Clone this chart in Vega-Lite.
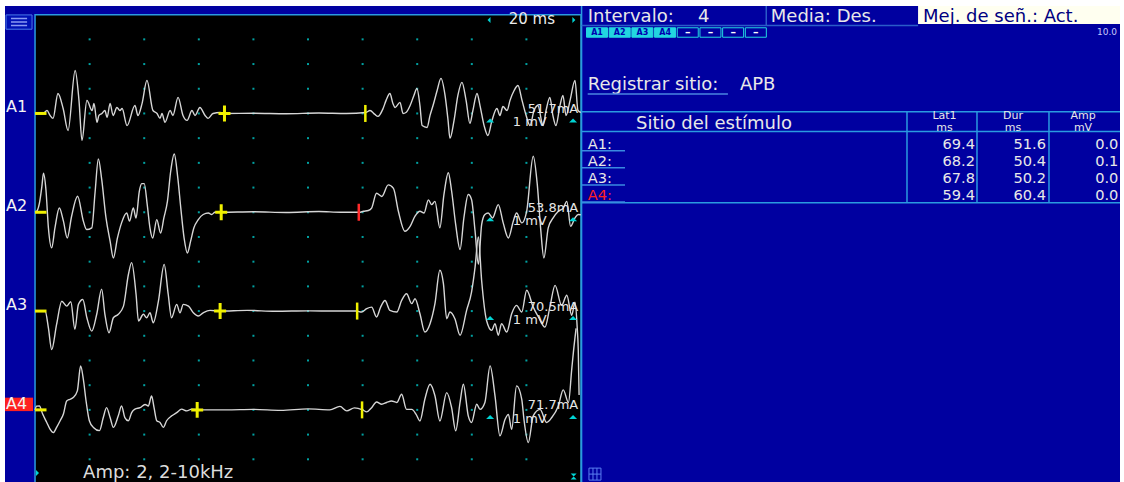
{
  "$schema": "https://vega.github.io/schema/vega-lite/v6.json",
  "background": "#ffffff",
  "padding": {"left": 5, "top": 5, "right": 4, "bottom": 0},
  "bounds": "flush",
  "spacing": 0,
  "config": {
    "view": {"stroke": null, "fill": "#0000a0"},
    "text": {"font": "DejaVu Sans"},
    "concat": {"spacing": 0}
  },
  "datasets": {
    "sitios": [
      {"ch": "A1", "row": 1, "base": 4, "lat": 69.4, "dur": 51.6, "end": 121.0, "amp": 0.0, "mA": "51.7mA"},
      {"ch": "A2", "row": 2, "base": 8, "lat": 68.2, "dur": 50.4, "end": 118.6, "amp": 0.1, "mA": "53.8mA"},
      {"ch": "A3", "row": 3, "base": 12, "lat": 67.8, "dur": 50.2, "end": 118.0, "amp": 0.0, "mA": "70.5mA"},
      {"ch": "A4", "row": 4, "base": 16, "lat": 59.4, "dur": 60.4, "end": 119.8, "amp": 0.0, "mA": "71.7mA"}
    ],
    "rejilla": [
      {"t": 20, "y": [1,2,3,4,5,6,7,8,9,10,11,12,13,14,15,16,17,18]},
      {"t": 40, "y": [1,2,3,4,5,6,7,8,9,10,11,12,13,14,15,16,17,18]},
      {"t": 60, "y": [1,2,3,4,5,6,7,8,9,10,11,12,13,14,15,16,17,18]},
      {"t": 80, "y": [1,2,3,4,5,6,7,8,9,10,11,12,13,14,15,16,17,18]},
      {"t": 100, "y": [1,2,3,4,5,6,7,8,9,10,11,12,13,14,15,16,17,18]},
      {"t": 120, "y": [1,2,3,4,5,6,7,8,9,10,11,12,13,14,15,16,17,18]},
      {"t": 140, "y": [1,2,3,4,5,6,7,8,9,10,11,12,13,14,15,16,17,18]},
      {"t": 160, "y": [1,2,3,4,5,6,7,8,9,10,11,12,13,14,15,16,17,18]},
      {"t": 180, "y": [1,2,3,4,5,6,7,8,9,10,11,12,13,14,15,16,17,18]}
    ],
    "botones": [
      {"slot": 1, "label": "A1", "on": true},
      {"slot": 2, "label": "A2", "on": true},
      {"slot": 3, "label": "A3", "on": true},
      {"slot": 4, "label": "A4", "on": true},
      {"slot": 5, "label": "–", "on": false},
      {"slot": 6, "label": "–", "on": false},
      {"slot": 7, "label": "–", "on": false},
      {"slot": 8, "label": "–", "on": false}
    ],
    "trazos": [
      {"ch":"A1","t":0,"y":4.0},{"ch":"A1","t":2.9,"y":4.0},{"ch":"A1","t":4.4,"y":3.88},{"ch":"A1","t":5.5,"y":4.08},{"ch":"A1","t":6.6,"y":4.2},{"ch":"A1","t":8.4,"y":3.19},{"ch":"A1","t":10.3,"y":3.8},{"ch":"A1","t":12.1,"y":4.69},{"ch":"A1","t":14.7,"y":2.26},{"ch":"A1","t":16.1,"y":3.47},{"ch":"A1","t":17.2,"y":5.09},{"ch":"A1","t":19.0,"y":3.47},{"ch":"A1","t":20.9,"y":3.88},{"ch":"A1","t":21.6,"y":3.6},{"ch":"A1","t":22.7,"y":4.36},{"ch":"A1","t":23.4,"y":4.08},{"ch":"A1","t":24.5,"y":4.0},{"ch":"A1","t":25.6,"y":3.88},{"ch":"A1","t":26.4,"y":4.16},{"ch":"A1","t":27.5,"y":3.6},{"ch":"A1","t":28.6,"y":4.08},{"ch":"A1","t":30.0,"y":3.76},{"ch":"A1","t":31.1,"y":3.88},{"ch":"A1","t":31.9,"y":3.8},{"ch":"A1","t":33.7,"y":4.49},{"ch":"A1","t":36.6,"y":3.68},{"ch":"A1","t":37.7,"y":4.08},{"ch":"A1","t":39.2,"y":3.6},{"ch":"A1","t":41.0,"y":2.66},{"ch":"A1","t":43.2,"y":3.88},{"ch":"A1","t":44.7,"y":4.0},{"ch":"A1","t":45.8,"y":4.2},{"ch":"A1","t":46.5,"y":4.0},{"ch":"A1","t":47.6,"y":4.36},{"ch":"A1","t":49.5,"y":3.88},{"ch":"A1","t":50.5,"y":4.08},{"ch":"A1","t":52.4,"y":3.35},{"ch":"A1","t":54.2,"y":4.08},{"ch":"A1","t":55.7,"y":4.28},{"ch":"A1","t":57.5,"y":3.88},{"ch":"A1","t":58.6,"y":4.08},{"ch":"A1","t":60.4,"y":3.76},{"ch":"A1","t":62.3,"y":4.08},{"ch":"A1","t":63.4,"y":4.2},{"ch":"A1","t":65.2,"y":4.0},{"ch":"A1","t":67.8,"y":3.96},{"ch":"A1","t":69.6,"y":4.0},{"ch":"A1","t":80,"y":3.99},{"ch":"A1","t":92,"y":4.01},{"ch":"A1","t":104,"y":3.98},{"ch":"A1","t":114,"y":4.0},
      {"ch":"A1","t":121.2,"y":3.96},{"ch":"A1","t":122.7,"y":3.88},{"ch":"A1","t":124.5,"y":4.04},{"ch":"A1","t":125.6,"y":4.12},{"ch":"A1","t":127.5,"y":3.8},{"ch":"A1","t":128.6,"y":3.47},{"ch":"A1","t":130.0,"y":3.19},{"ch":"A1","t":131.1,"y":3.6},{"ch":"A1","t":131.9,"y":3.76},{"ch":"A1","t":133.7,"y":3.55},{"ch":"A1","t":134.8,"y":4.0},{"ch":"A1","t":135.9,"y":3.96},{"ch":"A1","t":137.4,"y":3.68},{"ch":"A1","t":138.8,"y":3.27},{"ch":"A1","t":139.9,"y":2.99},{"ch":"A1","t":141.0,"y":3.68},{"ch":"A1","t":141.8,"y":4.49},{"ch":"A1","t":143.6,"y":4.57},{"ch":"A1","t":144.7,"y":4.08},{"ch":"A1","t":145.8,"y":3.68},{"ch":"A1","t":147.3,"y":3.07},{"ch":"A1","t":148.7,"y":2.58},{"ch":"A1","t":150.2,"y":3.27},{"ch":"A1","t":151.3,"y":4.28},{"ch":"A1","t":152.0,"y":5.01},{"ch":"A1","t":153.5,"y":4.28},{"ch":"A1","t":154.9,"y":3.27},{"ch":"A1","t":156.4,"y":2.74},{"ch":"A1","t":157.9,"y":3.47},{"ch":"A1","t":159.3,"y":4.4},{"ch":"A1","t":160.4,"y":3.88},{"ch":"A1","t":161.9,"y":3.19},{"ch":"A1","t":163.0,"y":3.68},{"ch":"A1","t":164.5,"y":4.49},{"ch":"A1","t":165.9,"y":4.89},{"ch":"A1","t":167.4,"y":4.28},{"ch":"A1","t":169.2,"y":3.8},{"ch":"A1","t":170.3,"y":4.08},{"ch":"A1","t":171.4,"y":3.72},{"ch":"A1","t":172.9,"y":3.88},{"ch":"A1","t":174.0,"y":3.47},{"ch":"A1","t":175.5,"y":3.07},{"ch":"A1","t":176.9,"y":2.87},{"ch":"A1","t":178.4,"y":3.47},{"ch":"A1","t":179.9,"y":4.08},{"ch":"A1","t":181.3,"y":4.49},{"ch":"A1","t":182.8,"y":3.88},{"ch":"A1","t":184.2,"y":3.68},{"ch":"A1","t":186.1,"y":4.49},{"ch":"A1","t":187.2,"y":3.88},{"ch":"A1","t":188.6,"y":3.35},{"ch":"A1","t":189.7,"y":4.08},{"ch":"A1","t":190.8,"y":4.49},{"ch":"A1","t":192.3,"y":3.68},{"ch":"A1","t":193.4,"y":3.27},{"ch":"A1","t":194.5,"y":4.08},{"ch":"A1","t":196.0,"y":3.47},{"ch":"A1","t":197.8,"y":2.66},{"ch":"A1","t":198.9,"y":3.88},{"ch":"A1","t":200,"y":3.96},
      {"ch":"A2","t":0,"y":8.0},{"ch":"A2","t":0.8,"y":7.93},{"ch":"A2","t":1.6,"y":7.64},{"ch":"A2","t":2.5,"y":6.96},{"ch":"A2","t":3.1,"y":6.42},{"ch":"A2","t":4.0,"y":7.09},{"ch":"A2","t":4.9,"y":8.63},{"ch":"A2","t":6.1,"y":9.44},{"ch":"A2","t":7.3,"y":8.63},{"ch":"A2","t":8.9,"y":7.83},{"ch":"A2","t":10.4,"y":8.36},{"ch":"A2","t":11.8,"y":9.04},{"ch":"A2","t":13.4,"y":8.16},{"ch":"A2","t":15.6,"y":7.35},{"ch":"A2","t":17.7,"y":8.36},{"ch":"A2","t":18.9,"y":8.7},{"ch":"A2","t":20.8,"y":8.63},{"ch":"A2","t":22.0,"y":7.19},{"ch":"A2","t":23.2,"y":5.84},{"ch":"A2","t":24.4,"y":6.65},{"ch":"A2","t":26.0,"y":8.23},{"ch":"A2","t":27.5,"y":9.17},{"ch":"A2","t":28.7,"y":9.85},{"ch":"A2","t":30.2,"y":9.04},{"ch":"A2","t":31.7,"y":8.43},{"ch":"A2","t":33.6,"y":8.03},{"ch":"A2","t":34.6,"y":8.36},{"ch":"A2","t":36.0,"y":7.83},{"ch":"A2","t":37.0,"y":8.23},{"ch":"A2","t":38.2,"y":7.15},{"ch":"A2","t":39.1,"y":6.84},{"ch":"A2","t":40.0,"y":6.84},{"ch":"A2","t":41.1,"y":7.69},{"ch":"A2","t":42.1,"y":8.63},{"ch":"A2","t":43.1,"y":9.04},{"ch":"A2","t":44.6,"y":8.3},{"ch":"A2","t":46.0,"y":8.84},{"ch":"A2","t":47.2,"y":8.23},{"ch":"A2","t":48.5,"y":7.56},{"ch":"A2","t":49.7,"y":6.34},{"ch":"A2","t":51.0,"y":5.64},{"ch":"A2","t":52.3,"y":6.61},{"ch":"A2","t":53.4,"y":7.83},{"ch":"A2","t":54.6,"y":9.04},{"ch":"A2","t":55.8,"y":9.65},{"ch":"A2","t":57.0,"y":9.17},{"ch":"A2","t":58.2,"y":8.63},{"ch":"A2","t":59.8,"y":8.3},{"ch":"A2","t":61.6,"y":8.09},{"ch":"A2","t":63.5,"y":8.03},{"ch":"A2","t":64.7,"y":8.09},{"ch":"A2","t":65.9,"y":8.0},{"ch":"A2","t":68.4,"y":8.0},{"ch":"A2","t":80,"y":7.98},{"ch":"A2","t":92,"y":8.01},{"ch":"A2","t":104,"y":7.97},{"ch":"A2","t":112,"y":8.0},
      {"ch":"A2","t":118.8,"y":8.0},{"ch":"A2","t":120.3,"y":7.96},{"ch":"A2","t":122.1,"y":7.93},{"ch":"A2","t":123.3,"y":7.83},{"ch":"A2","t":125.1,"y":7.23},{"ch":"A2","t":127.0,"y":7.36},{"ch":"A2","t":129.4,"y":6.89},{"ch":"A2","t":131.3,"y":7.03},{"ch":"A2","t":133.1,"y":7.96},{"ch":"A2","t":135.5,"y":8.77},{"ch":"A2","t":137.4,"y":8.57},{"ch":"A2","t":139.2,"y":8.16},{"ch":"A2","t":141.0,"y":7.96},{"ch":"A2","t":142.5,"y":8.03},{"ch":"A2","t":144.1,"y":7.5},{"ch":"A2","t":145.3,"y":7.69},{"ch":"A2","t":146.5,"y":7.56},{"ch":"A2","t":148.3,"y":8.63},{"ch":"A2","t":149.8,"y":7.28},{"ch":"A2","t":151.4,"y":6.4},{"ch":"A2","t":152.6,"y":7.14},{"ch":"A2","t":154.1,"y":8.5},{"ch":"A2","t":155.7,"y":9.51},{"ch":"A2","t":157.1,"y":8.23},{"ch":"A2","t":158.7,"y":7.28},{"ch":"A2","t":159.9,"y":7.48},{"ch":"A2","t":161.2,"y":8.77},{"ch":"A2","t":162.4,"y":10.11},{"ch":"A2","t":163.6,"y":8.5},{"ch":"A2","t":164.8,"y":8.09},{"ch":"A2","t":166.0,"y":8.03},{"ch":"A2","t":167.6,"y":8.23},{"ch":"A2","t":169.7,"y":7.69},{"ch":"A2","t":171.5,"y":8.43},{"ch":"A2","t":173.4,"y":9.04},{"ch":"A2","t":175.2,"y":8.36},{"ch":"A2","t":176.4,"y":8.03},{"ch":"A2","t":178.3,"y":8.43},{"ch":"A2","t":180.1,"y":7.96},{"ch":"A2","t":182.5,"y":5.73},{"ch":"A2","t":184.0,"y":6.89},{"ch":"A2","t":185.2,"y":8.63},{"ch":"A2","t":186.4,"y":9.85},{"ch":"A2","t":188.0,"y":8.63},{"ch":"A2","t":189.8,"y":8.23},{"ch":"A2","t":191.7,"y":7.96},{"ch":"A2","t":193.5,"y":7.83},{"ch":"A2","t":194.8,"y":7.56},{"ch":"A2","t":196.2,"y":8.57},{"ch":"A2","t":197.8,"y":8.23},{"ch":"A2","t":199.0,"y":8.09},{"ch":"A2","t":200,"y":8.1},
      {"ch":"A3","t":0,"y":12.0},{"ch":"A3","t":3.7,"y":12.0},{"ch":"A3","t":4.9,"y":12.68},{"ch":"A3","t":6.1,"y":13.56},{"ch":"A3","t":7.9,"y":12.54},{"ch":"A3","t":9.8,"y":11.6},{"ch":"A3","t":11.6,"y":11.8},{"ch":"A3","t":13.1,"y":11.62},{"ch":"A3","t":14.6,"y":12.74},{"ch":"A3","t":15.9,"y":11.73},{"ch":"A3","t":17.5,"y":11.53},{"ch":"A3","t":19.0,"y":12.27},{"ch":"A3","t":20.8,"y":12.81},{"ch":"A3","t":22.6,"y":12.13},{"ch":"A3","t":24.4,"y":11.11},{"ch":"A3","t":25.6,"y":12.13},{"ch":"A3","t":27.1,"y":12.88},{"ch":"A3","t":28.7,"y":12.27},{"ch":"A3","t":30.5,"y":12.13},{"ch":"A3","t":32.4,"y":11.8},{"ch":"A3","t":34.2,"y":10.52},{"ch":"A3","t":35.4,"y":10.04},{"ch":"A3","t":37.0,"y":11.31},{"ch":"A3","t":37.9,"y":12.4},{"ch":"A3","t":39.7,"y":12.13},{"ch":"A3","t":40.9,"y":12.27},{"ch":"A3","t":42.1,"y":12.07},{"ch":"A3","t":43.3,"y":12.47},{"ch":"A3","t":45.2,"y":11.6},{"ch":"A3","t":47.3,"y":10.11},{"ch":"A3","t":48.8,"y":11.33},{"ch":"A3","t":50.0,"y":12.27},{"ch":"A3","t":51.9,"y":11.73},{"ch":"A3","t":53.1,"y":12.07},{"ch":"A3","t":54.3,"y":11.73},{"ch":"A3","t":56.2,"y":11.8},{"ch":"A3","t":58.0,"y":12.07},{"ch":"A3","t":59.8,"y":12.2},{"ch":"A3","t":61.6,"y":12.07},{"ch":"A3","t":64.1,"y":11.97},{"ch":"A3","t":67.8,"y":12.0},{"ch":"A3","t":77.7,"y":11.97},{"ch":"A3","t":88,"y":12.01},{"ch":"A3","t":100,"y":11.99},{"ch":"A3","t":110,"y":12.0},
      {"ch":"A3","t":117.8,"y":12.0},{"ch":"A3","t":119.6,"y":12.04},{"ch":"A3","t":121.5,"y":11.9},{"ch":"A3","t":123.3,"y":11.84},{"ch":"A3","t":125.1,"y":12.24},{"ch":"A3","t":126.6,"y":11.84},{"ch":"A3","t":128.2,"y":11.57},{"ch":"A3","t":130.0,"y":11.97},{"ch":"A3","t":132.5,"y":12.04},{"ch":"A3","t":134.3,"y":11.57},{"ch":"A3","t":136.1,"y":11.3},{"ch":"A3","t":138.0,"y":11.7},{"ch":"A3","t":139.2,"y":11.5},{"ch":"A3","t":141.0,"y":12.11},{"ch":"A3","t":142.8,"y":12.85},{"ch":"A3","t":144.7,"y":12.51},{"ch":"A3","t":146.5,"y":11.7},{"ch":"A3","t":148.3,"y":10.35},{"ch":"A3","t":149.6,"y":10.89},{"ch":"A3","t":150.8,"y":12.31},{"ch":"A3","t":152.0,"y":12.04},{"ch":"A3","t":153.8,"y":12.31},{"ch":"A3","t":155.7,"y":12.98},{"ch":"A3","t":158.1,"y":11.97},{"ch":"A3","t":159.9,"y":11.23},{"ch":"A3","t":161.2,"y":10.22},{"ch":"A3","t":162.4,"y":9.0},{"ch":"A3","t":163.6,"y":10.76},{"ch":"A3","t":165.4,"y":12.38},{"ch":"A3","t":167.3,"y":12.78},{"ch":"A3","t":168.5,"y":12.51},{"ch":"A3","t":169.7,"y":12.98},{"ch":"A3","t":170.9,"y":12.51},{"ch":"A3","t":172.8,"y":12.85},{"ch":"A3","t":174.6,"y":12.11},{"ch":"A3","t":176.4,"y":11.77},{"ch":"A3","t":178.3,"y":12.04},{"ch":"A3","t":180.1,"y":11.16},{"ch":"A3","t":182.5,"y":11.84},{"ch":"A3","t":184.4,"y":12.24},{"ch":"A3","t":186.8,"y":12.65},{"ch":"A3","t":188.6,"y":11.84},{"ch":"A3","t":190.5,"y":10.96},{"ch":"A3","t":192.9,"y":11.77},{"ch":"A3","t":194.8,"y":11.36},{"ch":"A3","t":196.6,"y":12.17},{"ch":"A3","t":197.8,"y":11.64},{"ch":"A3","t":198.6,"y":12.65},{"ch":"A3","t":199.0,"y":13.6},{"ch":"A3","t":199.3,"y":15.4},
      {"ch":"A4","t":0,"y":16.0},{"ch":"A4","t":0.6,"y":15.85},{"ch":"A4","t":1.6,"y":15.84},{"ch":"A4","t":2.8,"y":16.17},{"ch":"A4","t":4.3,"y":16.51},{"ch":"A4","t":5.5,"y":16.78},{"ch":"A4","t":6.7,"y":16.92},{"ch":"A4","t":7.9,"y":16.71},{"ch":"A4","t":9.2,"y":16.44},{"ch":"A4","t":10.4,"y":16.17},{"ch":"A4","t":11.6,"y":15.64},{"ch":"A4","t":12.8,"y":15.57},{"ch":"A4","t":14.0,"y":15.5},{"ch":"A4","t":15.5,"y":15.23},{"ch":"A4","t":16.7,"y":14.22},{"ch":"A4","t":17.7,"y":14.76},{"ch":"A4","t":18.7,"y":15.64},{"ch":"A4","t":19.9,"y":16.44},{"ch":"A4","t":21.4,"y":16.71},{"ch":"A4","t":23.6,"y":16.84},{"ch":"A4","t":25.0,"y":16.31},{"ch":"A4","t":26.2,"y":15.91},{"ch":"A4","t":27.5,"y":16.31},{"ch":"A4","t":28.7,"y":16.71},{"ch":"A4","t":30.5,"y":16.24},{"ch":"A4","t":31.7,"y":15.84},{"ch":"A4","t":32.9,"y":16.31},{"ch":"A4","t":34.2,"y":16.44},{"ch":"A4","t":35.4,"y":16.11},{"ch":"A4","t":36.6,"y":15.97},{"ch":"A4","t":38.5,"y":15.91},{"ch":"A4","t":40.3,"y":15.78},{"ch":"A4","t":41.5,"y":15.84},{"ch":"A4","t":42.7,"y":15.44},{"ch":"A4","t":43.6,"y":15.91},{"ch":"A4","t":44.6,"y":16.44},{"ch":"A4","t":45.8,"y":16.51},{"ch":"A4","t":47.0,"y":16.71},{"ch":"A4","t":48.2,"y":16.44},{"ch":"A4","t":50.1,"y":16.24},{"ch":"A4","t":51.9,"y":16.11},{"ch":"A4","t":53.7,"y":15.97},{"ch":"A4","t":55.6,"y":16.04},{"ch":"A4","t":57.4,"y":15.97},{"ch":"A4","t":59.8,"y":16.0},{"ch":"A4","t":70,"y":16.0},{"ch":"A4","t":80,"y":15.98},{"ch":"A4","t":90,"y":16.02},{"ch":"A4","t":100,"y":15.96},{"ch":"A4","t":108,"y":16.0},{"ch":"A4","t":111.7,"y":15.86},{"ch":"A4","t":114.2,"y":16.04},{"ch":"A4","t":117,"y":15.92},
      {"ch":"A4","t":120.0,"y":16.0},{"ch":"A4","t":121.5,"y":16.08},{"ch":"A4","t":123.3,"y":15.91},{"ch":"A4","t":125.1,"y":15.68},{"ch":"A4","t":127.0,"y":15.77},{"ch":"A4","t":128.8,"y":15.7},{"ch":"A4","t":130.6,"y":15.64},{"ch":"A4","t":132.5,"y":15.7},{"ch":"A4","t":134.3,"y":15.37},{"ch":"A4","t":136.1,"y":15.98},{"ch":"A4","t":138.0,"y":15.98},{"ch":"A4","t":139.6,"y":16.18},{"ch":"A4","t":141.0,"y":16.45},{"ch":"A4","t":142.8,"y":15.57},{"ch":"A4","t":144.7,"y":14.96},{"ch":"A4","t":146.5,"y":15.43},{"ch":"A4","t":148.3,"y":16.45},{"ch":"A4","t":150.8,"y":15.3},{"ch":"A4","t":152.6,"y":15.91},{"ch":"A4","t":154.1,"y":16.85},{"ch":"A4","t":155.7,"y":15.7},{"ch":"A4","t":156.9,"y":14.96},{"ch":"A4","t":158.7,"y":16.24},{"ch":"A4","t":159.9,"y":16.51},{"ch":"A4","t":161.8,"y":15.77},{"ch":"A4","t":163.0,"y":15.98},{"ch":"A4","t":164.8,"y":15.7},{"ch":"A4","t":166.7,"y":14.22},{"ch":"A4","t":168.5,"y":15.43},{"ch":"A4","t":170.3,"y":17.05},{"ch":"A4","t":172.2,"y":16.38},{"ch":"A4","t":173.4,"y":16.18},{"ch":"A4","t":174.6,"y":16.79},{"ch":"A4","t":176.4,"y":15.03},{"ch":"A4","t":178.3,"y":15.57},{"ch":"A4","t":179.1,"y":16.38},{"ch":"A4","t":180.7,"y":17.32},{"ch":"A4","t":182.5,"y":16.24},{"ch":"A4","t":185.0,"y":15.98},{"ch":"A4","t":187.4,"y":16.51},{"ch":"A4","t":189.3,"y":16.31},{"ch":"A4","t":191.7,"y":15.84},{"ch":"A4","t":193.5,"y":15.19},{"ch":"A4","t":195.4,"y":15.7},{"ch":"A4","t":196.6,"y":14.36},{"ch":"A4","t":197.2,"y":13.68},{"ch":"A4","t":198.2,"y":12.7}
    ]
  },
  "hconcat": [
    {
      "width": 576,
      "height": 477,
      "layer": [
        {
          "data": {"values": [{}]},
          "mark": {"type": "rect", "fill": "#000000", "stroke": "#2a9ae0", "strokeWidth": 1.5},
          "encoding": {
            "x": {"datum": 0, "type": "quantitative", "scale": {"domain": [-11, 200], "nice": false, "zero": false}, "axis": null},
            "x2": {"datum": 200},
            "y": {"datum": 0, "type": "quantitative", "scale": {"domain": [-0.35, 18.96], "nice": false, "zero": false, "reverse": true}, "axis": null},
            "y2": {"datum": 18.96}
          }
        },
        {
          "data": {"name": "rejilla"},
          "transform": [{"flatten": ["y"]}],
          "mark": {"type": "square", "size": 4, "color": "#00a0a0", "opacity": 1},
          "encoding": {
            "x": {"field": "t", "type": "quantitative", "scale": {"domain": [-11, 200], "nice": false, "zero": false}, "axis": null},
            "y": {"field": "y", "type": "quantitative", "scale": {"domain": [-0.35, 18.96], "nice": false, "zero": false, "reverse": true}, "axis": null}
          }
        },
        {
          "data": {"name": "trazos"},
          "mark": {"type": "line", "color": "#d6d6d6", "strokeWidth": 1.4, "interpolate": "monotone"},
          "encoding": {
            "x": {"field": "t", "type": "quantitative", "scale": {"domain": [-11, 200], "nice": false, "zero": false}, "axis": null},
            "y": {"field": "y", "type": "quantitative", "scale": {"domain": [-0.35, 18.96], "nice": false, "zero": false, "reverse": true}, "axis": null},
            "detail": {"field": "ch"}
          }
        },
        {
          "data": {"name": "sitios"},
          "mark": {"type": "rule", "color": "#f0f000", "strokeWidth": 3},
          "encoding": {
            "x": {"datum": 0, "type": "quantitative", "scale": {"domain": [-11, 200], "nice": false, "zero": false}, "axis": null},
            "x2": {"datum": 4.2},
            "y": {"field": "base", "type": "quantitative", "scale": {"domain": [-0.35, 18.96], "nice": false, "zero": false, "reverse": true}, "axis": null}
          }
        },
        {
          "data": {"name": "sitios"},
          "mark": {"type": "point", "shape": "M-1,0H1M0,-1.33V1.33", "size": 144, "filled": false, "strokeWidth": 3, "color": "#f0f000", "opacity": 1},
          "encoding": {
            "x": {"field": "lat", "type": "quantitative", "scale": {"domain": [-11, 200], "nice": false, "zero": false}, "axis": null},
            "y": {"field": "base", "type": "quantitative", "scale": {"domain": [-0.35, 18.96], "nice": false, "zero": false, "reverse": true}, "axis": null}
          }
        },
        {
          "data": {"name": "sitios"},
          "mark": {"type": "point", "shape": "M0,-1V1", "size": 289, "filled": false, "strokeWidth": 2.5, "opacity": 1},
          "encoding": {
            "x": {"field": "end", "type": "quantitative", "scale": {"domain": [-11, 200], "nice": false, "zero": false}, "axis": null},
            "y": {"field": "base", "type": "quantitative", "scale": {"domain": [-0.35, 18.96], "nice": false, "zero": false, "reverse": true}, "axis": null},
            "color": {"condition": {"test": "datum.ch === 'A2'", "value": "#ff2a2a"}, "value": "#f0f000"}
          }
        },
        {
          "data": {"name": "sitios"},
          "mark": {"type": "point", "shape": "M-1,0.5L0,-0.5L1,0.5Z", "size": 64, "filled": true, "color": "#00d4d4", "opacity": 1, "yOffset": 7},
          "encoding": {
            "x": {"datum": 166.7, "type": "quantitative", "scale": {"domain": [-11, 200], "nice": false, "zero": false}, "axis": null},
            "y": {"field": "base", "type": "quantitative", "scale": {"domain": [-0.35, 18.96], "nice": false, "zero": false, "reverse": true}, "axis": null}
          }
        },
        {
          "data": {"name": "sitios"},
          "mark": {"type": "point", "shape": "M-1,0.5L0,-0.5L1,0.5Z", "size": 64, "filled": true, "color": "#00d4d4", "opacity": 1, "yOffset": 7},
          "encoding": {
            "x": {"datum": 197.1, "type": "quantitative", "scale": {"domain": [-11, 200], "nice": false, "zero": false}, "axis": null},
            "y": {"field": "base", "type": "quantitative", "scale": {"domain": [-0.35, 18.96], "nice": false, "zero": false, "reverse": true}, "axis": null}
          }
        },
        {
          "data": {"name": "sitios"},
          "mark": {"type": "text", "align": "right", "baseline": "alphabetic", "fontSize": 13, "color": "#e6e6e6", "dy": -0.5},
          "encoding": {
            "x": {"datum": 199, "type": "quantitative", "scale": {"domain": [-11, 200], "nice": false, "zero": false}, "axis": null},
            "y": {"field": "base", "type": "quantitative", "scale": {"domain": [-0.35, 18.96], "nice": false, "zero": false, "reverse": true}, "axis": null},
            "text": {"field": "mA"}
          }
        },
        {
          "data": {"name": "sitios"},
          "mark": {"type": "text", "align": "left", "baseline": "alphabetic", "fontSize": 13, "color": "#e6e6e6", "dy": 13, "text": "1 mV"},
          "encoding": {
            "x": {"datum": 175, "type": "quantitative", "scale": {"domain": [-11, 200], "nice": false, "zero": false}, "axis": null},
            "y": {"field": "base", "type": "quantitative", "scale": {"domain": [-0.35, 18.96], "nice": false, "zero": false, "reverse": true}, "axis": null}
          }
        },
        {
          "data": {"name": "sitios"},
          "transform": [{"filter": "datum.ch === 'A4'"}],
          "mark": {"type": "point", "shape": "M-1,-0.48H1V0.48H-1Z", "size": 784, "filled": true, "color": "#ff2020", "opacity": 1, "yOffset": -5.5},
          "encoding": {
            "x": {"datum": -5.86, "type": "quantitative", "scale": {"domain": [-11, 200], "nice": false, "zero": false}, "axis": null},
            "y": {"field": "base", "type": "quantitative", "scale": {"domain": [-0.35, 18.96], "nice": false, "zero": false, "reverse": true}, "axis": null}
          }
        },
        {
          "data": {"name": "sitios"},
          "mark": {"type": "text", "align": "left", "baseline": "alphabetic", "fontSize": 16, "color": "#f4f4f4", "dy": -1},
          "encoding": {
            "x": {"datum": -10.6, "type": "quantitative", "scale": {"domain": [-11, 200], "nice": false, "zero": false}, "axis": null},
            "y": {"field": "base", "type": "quantitative", "scale": {"domain": [-0.35, 18.96], "nice": false, "zero": false, "reverse": true}, "axis": null},
            "text": {"field": "ch"}
          }
        },
        {
          "data": {"values": [{}]},
          "mark": {"type": "text", "align": "center", "baseline": "alphabetic", "fontSize": 15, "color": "#ececec", "text": "20 ms"},
          "encoding": {
            "x": {"datum": 182, "type": "quantitative", "scale": {"domain": [-11, 200], "nice": false, "zero": false}, "axis": null},
            "y": {"datum": 0.379, "type": "quantitative", "scale": {"domain": [-0.35, 18.96], "nice": false, "zero": false, "reverse": true}, "axis": null}
          }
        },
        {
          "data": {"values": [{}]},
          "mark": {"type": "point", "shape": "M0.5,-1L-0.5,0L0.5,1Z", "size": 36, "filled": true, "color": "#00d4d4", "opacity": 1},
          "encoding": {
            "x": {"datum": 166.3, "type": "quantitative", "scale": {"domain": [-11, 200], "nice": false, "zero": false}, "axis": null},
            "y": {"datum": 0.22, "type": "quantitative", "scale": {"domain": [-0.35, 18.96], "nice": false, "zero": false, "reverse": true}, "axis": null}
          }
        },
        {
          "data": {"values": [{}]},
          "mark": {"type": "point", "shape": "M-0.5,-1L0.5,0L-0.5,1Z", "size": 36, "filled": true, "color": "#00d4d4", "opacity": 1},
          "encoding": {
            "x": {"datum": 197.4, "type": "quantitative", "scale": {"domain": [-11, 200], "nice": false, "zero": false}, "axis": null},
            "y": {"datum": 0.22, "type": "quantitative", "scale": {"domain": [-0.35, 18.96], "nice": false, "zero": false, "reverse": true}, "axis": null}
          }
        },
        {
          "data": {"values": [{}]},
          "mark": {"type": "text", "align": "left", "baseline": "alphabetic", "fontSize": 18, "color": "#dcdcdc", "text": "Amp: 2, 2-10kHz"},
          "encoding": {
            "x": {"datum": 17.6, "type": "quantitative", "scale": {"domain": [-11, 200], "nice": false, "zero": false}, "axis": null},
            "y": {"datum": 18.75, "type": "quantitative", "scale": {"domain": [-0.35, 18.96], "nice": false, "zero": false, "reverse": true}, "axis": null}
          }
        },
        {
          "data": {"values": [{}]},
          "mark": {"type": "point", "shape": "M-1,-0.55H1V0.55H-1Z", "size": 676, "filled": true, "color": "#0010b4", "stroke": "#4a7ae8", "strokeWidth": 1, "strokeJoin": "round", "opacity": 1},
          "encoding": {
            "x": {"datum": -5.86, "type": "quantitative", "scale": {"domain": [-11, 200], "nice": false, "zero": false}, "axis": null},
            "y": {"datum": 0.3, "type": "quantitative", "scale": {"domain": [-0.35, 18.96], "nice": false, "zero": false, "reverse": true}, "axis": null}
          }
        },
        {
          "data": {"values": [{}]},
          "mark": {"type": "point", "shape": "M-0.62,-0.27H0.62M-0.62,0H0.62M-0.62,0.27H0.62", "size": 676, "filled": false, "color": "#8a9af2", "strokeWidth": 1.5, "opacity": 1},
          "encoding": {
            "x": {"datum": -5.86, "type": "quantitative", "scale": {"domain": [-11, 200], "nice": false, "zero": false}, "axis": null},
            "y": {"datum": 0.3, "type": "quantitative", "scale": {"domain": [-0.35, 18.96], "nice": false, "zero": false, "reverse": true}, "axis": null}
          }
        },
        {
          "data": {"values": [{}]},
          "mark": {"type": "point", "shape": "M-0.5,-1L0.5,0L-0.5,1Z", "size": 36, "filled": true, "color": "#00d4d4", "opacity": 1},
          "encoding": {
            "x": {"datum": 0.9, "type": "quantitative", "scale": {"domain": [-11, 200], "nice": false, "zero": false}, "axis": null},
            "y": {"datum": 18.56, "type": "quantitative", "scale": {"domain": [-0.35, 18.96], "nice": false, "zero": false, "reverse": true}, "axis": null}
          }
        },
        {
          "data": {"values": [{}]},
          "mark": {"type": "point", "shape": "M-1,-1H1L-1,1H1Z", "size": 36, "filled": true, "color": "#00d4d4", "opacity": 1},
          "encoding": {
            "x": {"datum": 197.3, "type": "quantitative", "scale": {"domain": [-11, 200], "nice": false, "zero": false}, "axis": null},
            "y": {"datum": 18.7, "type": "quantitative", "scale": {"domain": [-0.35, 18.96], "nice": false, "zero": false, "reverse": true}, "axis": null}
          }
        }
      ]
    },
    {
      "width": 539,
      "height": 477,
      "layer": [
        {
          "data": {"values": [{}]},
          "mark": {"type": "rect", "fill": "#fffff0"},
          "encoding": {
            "x": {"datum": 15.15, "type": "quantitative", "scale": {"domain": [0.2948, 24.05], "nice": false, "zero": false}, "axis": null},
            "x2": {"datum": 24.05},
            "y": {"datum": -7.345, "type": "quantitative", "scale": {"domain": [-7.345, 20.55], "nice": false, "zero": false, "reverse": true}, "axis": null},
            "y2": {"datum": -6.292}
          }
        },
        {
          "data": {"values": [{}]},
          "mark": {"type": "rule", "color": "#2a9ae0", "strokeWidth": 1.5},
          "encoding": {
            "x": {"datum": 0.32, "type": "quantitative", "scale": {"domain": [0.2948, 24.05], "nice": false, "zero": false}, "axis": null},
            "y": {"datum": -7.345, "type": "quantitative", "scale": {"domain": [-7.345, 20.55], "nice": false, "zero": false, "reverse": true}, "axis": null},
            "y2": {"datum": 20.55}
          }
        },
        {
          "data": {"values": [{}]},
          "mark": {"type": "rule", "color": "#2a5cc8", "strokeWidth": 1.5},
          "encoding": {
            "x": {"datum": 0.32, "type": "quantitative", "scale": {"domain": [0.2948, 24.05], "nice": false, "zero": false}, "axis": null},
            "x2": {"datum": 15.15},
            "y": {"datum": -6.205, "type": "quantitative", "scale": {"domain": [-7.345, 20.55], "nice": false, "zero": false, "reverse": true}, "axis": null}
          }
        },
        {
          "data": {"values": [{}]},
          "mark": {"type": "rule", "color": "#2a5cc8", "strokeWidth": 1.5},
          "encoding": {
            "x": {"datum": 8.46, "type": "quantitative", "scale": {"domain": [0.2948, 24.05], "nice": false, "zero": false}, "axis": null},
            "y": {"datum": -7.345, "type": "quantitative", "scale": {"domain": [-7.345, 20.55], "nice": false, "zero": false, "reverse": true}, "axis": null},
            "y2": {"datum": -6.205}
          }
        },
        {
          "data": {"values": [{}]},
          "mark": {"type": "text", "align": "left", "baseline": "alphabetic", "fontSize": 18, "color": "#e8e8e8", "text": "Intervalo:"},
          "encoding": {
            "x": {"datum": 0.59, "type": "quantitative", "scale": {"domain": [0.2948, 24.05], "nice": false, "zero": false}, "axis": null},
            "y": {"datum": -6.427, "type": "quantitative", "scale": {"domain": [-7.345, 20.55], "nice": false, "zero": false, "reverse": true}, "axis": null}
          }
        },
        {
          "data": {"values": [{}]},
          "mark": {"type": "text", "align": "center", "baseline": "alphabetic", "fontSize": 18, "color": "#e8e8e8", "text": "4"},
          "encoding": {
            "x": {"datum": 5.7, "type": "quantitative", "scale": {"domain": [0.2948, 24.05], "nice": false, "zero": false}, "axis": null},
            "y": {"datum": -6.427, "type": "quantitative", "scale": {"domain": [-7.345, 20.55], "nice": false, "zero": false, "reverse": true}, "axis": null}
          }
        },
        {
          "data": {"values": [{}]},
          "mark": {"type": "text", "align": "left", "baseline": "alphabetic", "fontSize": 18, "color": "#e8e8e8", "text": "Media: Des."},
          "encoding": {
            "x": {"datum": 8.66, "type": "quantitative", "scale": {"domain": [0.2948, 24.05], "nice": false, "zero": false}, "axis": null},
            "y": {"datum": -6.427, "type": "quantitative", "scale": {"domain": [-7.345, 20.55], "nice": false, "zero": false, "reverse": true}, "axis": null}
          }
        },
        {
          "data": {"values": [{}]},
          "mark": {"type": "text", "align": "left", "baseline": "alphabetic", "fontSize": 18, "color": "#000080", "text": "Mej. de señ.: Act."},
          "encoding": {
            "x": {"datum": 15.37, "type": "quantitative", "scale": {"domain": [0.2948, 24.05], "nice": false, "zero": false}, "axis": null},
            "y": {"datum": -6.427, "type": "quantitative", "scale": {"domain": [-7.345, 20.55], "nice": false, "zero": false, "reverse": true}, "axis": null}
          }
        },
        {
          "data": {"name": "botones"},
          "mark": {"type": "point", "shape": "M-1,-0.45H1V0.45H-1Z", "size": 441, "filled": true, "stroke": "#22d6e0", "strokeWidth": 1, "opacity": 1},
          "encoding": {
            "x": {"field": "slot", "type": "quantitative", "scale": {"domain": [0.2948, 24.05], "nice": false, "zero": false}, "axis": null},
            "y": {"datum": -5.795, "type": "quantitative", "scale": {"domain": [-7.345, 20.55], "nice": false, "zero": false, "reverse": true}, "axis": null},
            "color": {"condition": {"test": "datum.on", "value": "#22d6e0"}, "value": "#0000a0"}
          }
        },
        {
          "data": {"name": "botones"},
          "mark": {"type": "text", "align": "center", "baseline": "middle", "fontWeight": "bold"},
          "encoding": {
            "x": {"field": "slot", "type": "quantitative", "scale": {"domain": [0.2948, 24.05], "nice": false, "zero": false}, "axis": null},
            "y": {"datum": -5.795, "type": "quantitative", "scale": {"domain": [-7.345, 20.55], "nice": false, "zero": false, "reverse": true}, "axis": null},
            "text": {"field": "label"},
            "size": {"condition": {"test": "datum.on", "value": 8}, "value": 11},
            "color": {"condition": {"test": "datum.on", "value": "#0000b0"}, "value": "#ffffff"}
          }
        },
        {
          "data": {"values": [{}]},
          "mark": {"type": "text", "align": "right", "baseline": "middle", "fontSize": 9, "color": "#c8c8f8", "text": "10.0"},
          "encoding": {
            "x": {"datum": 23.92, "type": "quantitative", "scale": {"domain": [0.2948, 24.05], "nice": false, "zero": false}, "axis": null},
            "y": {"datum": -5.825, "type": "quantitative", "scale": {"domain": [-7.345, 20.55], "nice": false, "zero": false, "reverse": true}, "axis": null}
          }
        },
        {
          "data": {"values": [{}]},
          "mark": {"type": "text", "align": "left", "baseline": "alphabetic", "fontSize": 18, "color": "#e8e8e8", "text": "Registrar sitio:"},
          "encoding": {
            "x": {"datum": 0.59, "type": "quantitative", "scale": {"domain": [0.2948, 24.05], "nice": false, "zero": false}, "axis": null},
            "y": {"datum": -2.415, "type": "quantitative", "scale": {"domain": [-7.345, 20.55], "nice": false, "zero": false, "reverse": true}, "axis": null}
          }
        },
        {
          "data": {"values": [{}]},
          "mark": {"type": "rule", "color": "#4a86e0", "strokeWidth": 1.5},
          "encoding": {
            "x": {"datum": 0.59, "type": "quantitative", "scale": {"domain": [0.2948, 24.05], "nice": false, "zero": false}, "axis": null},
            "x2": {"datum": 6.77},
            "y": {"datum": -2.199, "type": "quantitative", "scale": {"domain": [-7.345, 20.55], "nice": false, "zero": false, "reverse": true}, "axis": null}
          }
        },
        {
          "data": {"values": [{}]},
          "mark": {"type": "text", "align": "left", "baseline": "alphabetic", "fontSize": 18, "color": "#e8e8e8", "text": "APB"},
          "encoding": {
            "x": {"datum": 7.3, "type": "quantitative", "scale": {"domain": [0.2948, 24.05], "nice": false, "zero": false}, "axis": null},
            "y": {"datum": -2.415, "type": "quantitative", "scale": {"domain": [-7.345, 20.55], "nice": false, "zero": false, "reverse": true}, "axis": null}
          }
        },
        {
          "data": {"values": [{}]},
          "mark": {"type": "rule", "color": "#2a9ae0", "strokeWidth": 1.5},
          "encoding": {
            "x": {"datum": 0.32, "type": "quantitative", "scale": {"domain": [0.2948, 24.05], "nice": false, "zero": false}, "axis": null},
            "x2": {"datum": 24.05},
            "y": {"datum": -1.164, "type": "quantitative", "scale": {"domain": [-7.345, 20.55], "nice": false, "zero": false, "reverse": true}, "axis": null}
          }
        },
        {
          "data": {"values": [{}]},
          "mark": {"type": "rule", "color": "#2a9ae0", "strokeWidth": 1.5},
          "encoding": {
            "x": {"datum": 0.32, "type": "quantitative", "scale": {"domain": [0.2948, 24.05], "nice": false, "zero": false}, "axis": null},
            "x2": {"datum": 24.05},
            "y": {"datum": 0.0, "type": "quantitative", "scale": {"domain": [-7.345, 20.55], "nice": false, "zero": false, "reverse": true}, "axis": null}
          }
        },
        {
          "data": {"values": [{}]},
          "mark": {"type": "rule", "color": "#2a9ae0", "strokeWidth": 1.5},
          "encoding": {
            "x": {"datum": 0.32, "type": "quantitative", "scale": {"domain": [0.2948, 24.05], "nice": false, "zero": false}, "axis": null},
            "x2": {"datum": 24.05},
            "y": {"datum": 4.158, "type": "quantitative", "scale": {"domain": [-7.345, 20.55], "nice": false, "zero": false, "reverse": true}, "axis": null}
          }
        },
        {
          "data": {"values": [{}]},
          "mark": {"type": "rule", "color": "#2a9ae0", "strokeWidth": 1.5},
          "encoding": {
            "x": {"datum": 14.662, "type": "quantitative", "scale": {"domain": [0.2948, 24.05], "nice": false, "zero": false}, "axis": null},
            "y": {"datum": -1.164, "type": "quantitative", "scale": {"domain": [-7.345, 20.55], "nice": false, "zero": false, "reverse": true}, "axis": null},
            "y2": {"datum": 4.158}
          }
        },
        {
          "data": {"values": [{}]},
          "mark": {"type": "rule", "color": "#2a9ae0", "strokeWidth": 1.5},
          "encoding": {
            "x": {"datum": 17.747, "type": "quantitative", "scale": {"domain": [0.2948, 24.05], "nice": false, "zero": false}, "axis": null},
            "y": {"datum": -1.164, "type": "quantitative", "scale": {"domain": [-7.345, 20.55], "nice": false, "zero": false, "reverse": true}, "axis": null},
            "y2": {"datum": 4.158}
          }
        },
        {
          "data": {"values": [{}]},
          "mark": {"type": "rule", "color": "#2a9ae0", "strokeWidth": 1.5},
          "encoding": {
            "x": {"datum": 20.92, "type": "quantitative", "scale": {"domain": [0.2948, 24.05], "nice": false, "zero": false}, "axis": null},
            "y": {"datum": -1.164, "type": "quantitative", "scale": {"domain": [-7.345, 20.55], "nice": false, "zero": false, "reverse": true}, "axis": null},
            "y2": {"datum": 4.158}
          }
        },
        {
          "data": {"values": [{}]},
          "mark": {"type": "text", "align": "center", "baseline": "alphabetic", "fontSize": 18, "color": "#e8e8e8", "text": "Sitio del estímulo"},
          "encoding": {
            "x": {"datum": 6.157, "type": "quantitative", "scale": {"domain": [0.2948, 24.05], "nice": false, "zero": false}, "axis": null},
            "y": {"datum": -0.135, "type": "quantitative", "scale": {"domain": [-7.345, 20.55], "nice": false, "zero": false, "reverse": true}, "axis": null}
          }
        },
        {
          "data": {"values": [{}]},
          "mark": {"type": "text", "align": "center", "baseline": "alphabetic", "fontSize": 11, "color": "#e8e8e8", "text": "Lat1"},
          "encoding": {
            "x": {"datum": 16.315, "type": "quantitative", "scale": {"domain": [0.2948, 24.05], "nice": false, "zero": false}, "axis": null},
            "y": {"datum": -0.72, "type": "quantitative", "scale": {"domain": [-7.345, 20.55], "nice": false, "zero": false, "reverse": true}, "axis": null}
          }
        },
        {
          "data": {"values": [{}]},
          "mark": {"type": "text", "align": "center", "baseline": "alphabetic", "fontSize": 11, "color": "#e8e8e8", "text": "ms"},
          "encoding": {
            "x": {"datum": 16.315, "type": "quantitative", "scale": {"domain": [0.2948, 24.05], "nice": false, "zero": false}, "axis": null},
            "y": {"datum": -0.05, "type": "quantitative", "scale": {"domain": [-7.345, 20.55], "nice": false, "zero": false, "reverse": true}, "axis": null}
          }
        },
        {
          "data": {"values": [{}]},
          "mark": {"type": "text", "align": "center", "baseline": "alphabetic", "fontSize": 11, "color": "#e8e8e8", "text": "Dur"},
          "encoding": {
            "x": {"datum": 19.334, "type": "quantitative", "scale": {"domain": [0.2948, 24.05], "nice": false, "zero": false}, "axis": null},
            "y": {"datum": -0.72, "type": "quantitative", "scale": {"domain": [-7.345, 20.55], "nice": false, "zero": false, "reverse": true}, "axis": null}
          }
        },
        {
          "data": {"values": [{}]},
          "mark": {"type": "text", "align": "center", "baseline": "alphabetic", "fontSize": 11, "color": "#e8e8e8", "text": "ms"},
          "encoding": {
            "x": {"datum": 19.334, "type": "quantitative", "scale": {"domain": [0.2948, 24.05], "nice": false, "zero": false}, "axis": null},
            "y": {"datum": -0.05, "type": "quantitative", "scale": {"domain": [-7.345, 20.55], "nice": false, "zero": false, "reverse": true}, "axis": null}
          }
        },
        {
          "data": {"values": [{}]},
          "mark": {"type": "text", "align": "center", "baseline": "alphabetic", "fontSize": 11, "color": "#e8e8e8", "text": "Amp"},
          "encoding": {
            "x": {"datum": 22.42, "type": "quantitative", "scale": {"domain": [0.2948, 24.05], "nice": false, "zero": false}, "axis": null},
            "y": {"datum": -0.72, "type": "quantitative", "scale": {"domain": [-7.345, 20.55], "nice": false, "zero": false, "reverse": true}, "axis": null}
          }
        },
        {
          "data": {"values": [{}]},
          "mark": {"type": "text", "align": "center", "baseline": "alphabetic", "fontSize": 11, "color": "#e8e8e8", "text": "mV"},
          "encoding": {
            "x": {"datum": 22.42, "type": "quantitative", "scale": {"domain": [0.2948, 24.05], "nice": false, "zero": false}, "axis": null},
            "y": {"datum": -0.05, "type": "quantitative", "scale": {"domain": [-7.345, 20.55], "nice": false, "zero": false, "reverse": true}, "axis": null}
          }
        },
        {
          "data": {"name": "sitios"},
          "transform": [{"calculate": "datum.ch + ':'", "as": "sitio"}],
          "mark": {"type": "text", "align": "left", "baseline": "alphabetic", "fontSize": 14.6},
          "encoding": {
            "x": {"datum": 0.59, "type": "quantitative", "scale": {"domain": [0.2948, 24.05], "nice": false, "zero": false}, "axis": null},
            "y": {"field": "row", "type": "quantitative", "scale": {"domain": [-7.345, 20.55], "nice": false, "zero": false, "reverse": true}, "axis": null},
            "text": {"field": "sitio"},
            "color": {"condition": {"test": "datum.ch === 'A4'", "value": "#ff2020"}, "value": "#e8e8e8"}
          }
        },
        {
          "data": {"name": "sitios"},
          "mark": {"type": "rule", "color": "#3a8ae0", "strokeWidth": 1.5, "yOffset": 2},
          "encoding": {
            "x": {"datum": 0.339, "type": "quantitative", "scale": {"domain": [0.2948, 24.05], "nice": false, "zero": false}, "axis": null},
            "x2": {"datum": 2.234},
            "y": {"field": "row", "type": "quantitative", "scale": {"domain": [-7.345, 20.55], "nice": false, "zero": false, "reverse": true}, "axis": null}
          }
        },
        {
          "data": {"name": "sitios"},
          "mark": {"type": "text", "align": "right", "baseline": "alphabetic", "fontSize": 14.6, "color": "#e8e8e8"},
          "encoding": {
            "x": {"datum": 17.66, "type": "quantitative", "scale": {"domain": [0.2948, 24.05], "nice": false, "zero": false}, "axis": null},
            "y": {"field": "row", "type": "quantitative", "scale": {"domain": [-7.345, 20.55], "nice": false, "zero": false, "reverse": true}, "axis": null},
            "text": {"field": "lat", "type": "quantitative", "format": ".1f"}
          }
        },
        {
          "data": {"name": "sitios"},
          "mark": {"type": "text", "align": "right", "baseline": "alphabetic", "fontSize": 14.6, "color": "#e8e8e8"},
          "encoding": {
            "x": {"datum": 20.79, "type": "quantitative", "scale": {"domain": [0.2948, 24.05], "nice": false, "zero": false}, "axis": null},
            "y": {"field": "row", "type": "quantitative", "scale": {"domain": [-7.345, 20.55], "nice": false, "zero": false, "reverse": true}, "axis": null},
            "text": {"field": "dur", "type": "quantitative", "format": ".1f"}
          }
        },
        {
          "data": {"name": "sitios"},
          "mark": {"type": "text", "align": "right", "baseline": "alphabetic", "fontSize": 14.6, "color": "#e8e8e8"},
          "encoding": {
            "x": {"datum": 23.98, "type": "quantitative", "scale": {"domain": [0.2948, 24.05], "nice": false, "zero": false}, "axis": null},
            "y": {"field": "row", "type": "quantitative", "scale": {"domain": [-7.345, 20.55], "nice": false, "zero": false, "reverse": true}, "axis": null},
            "text": {"field": "amp", "type": "quantitative", "format": ".1f"}
          }
        },
        {
          "data": {"values": [{}]},
          "mark": {"type": "point", "shape": "M-1,-1H1V1H-1ZM-0.33,-1V1M0.33,-1V1M-1,0H1", "size": 144, "filled": false, "color": "#5a7ef0", "strokeWidth": 1, "opacity": 1},
          "encoding": {
            "x": {"datum": 0.91, "type": "quantitative", "scale": {"domain": [0.2948, 24.05], "nice": false, "zero": false}, "axis": null},
            "y": {"datum": 20.03, "type": "quantitative", "scale": {"domain": [-7.345, 20.55], "nice": false, "zero": false, "reverse": true}, "axis": null}
          }
        }
      ]
    }
  ]
}
